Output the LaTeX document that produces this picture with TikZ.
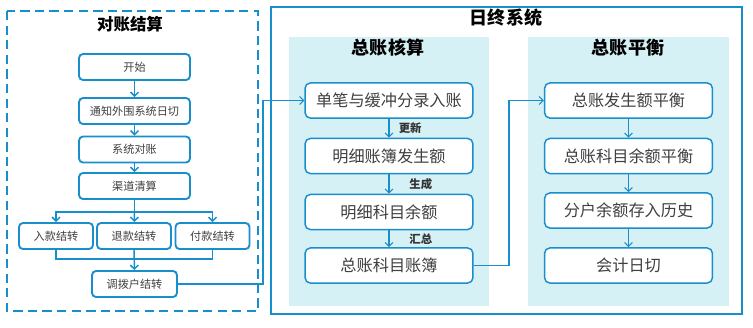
\documentclass[tikz,border=0pt]{standalone}
\usepackage{fontspec}
\setmainfont{Noto Sans CJK SC}
\usepackage{xcolor}
\definecolor{flowblue}{RGB}{24,142,204}
\definecolor{panelcyan}{RGB}{213,241,245}
\definecolor{boxtext}{RGB}{64,64,64}
\usetikzlibrary{arrows.meta,positioning}
\tikzset{
  flowbox/.style={draw=flowblue, line width=1.4pt, rounded corners=3pt, fill=white, text=boxtext, font=\fontsize{8.4pt}{10pt}\selectfont, minimum width=2.94cm, minimum height=0.69cm, inner sep=0pt},
  smallbox/.style={flowbox, minimum width=1.96cm},
  ledgerbox/.style={draw=flowblue, line width=1.1pt, rounded corners=4pt, fill=white, text=boxtext, font=\fontsize{12.2pt}{14pt}\selectfont, minimum width=4.45cm, minimum height=0.93cm, inner sep=0pt},
  link/.style={flowblue, line width=1.1pt, -{Straight Barb[length=3pt,width=6pt]}},
  plainlink/.style={flowblue, line width=1.1pt},
  thinlink/.style={flowblue, line width=0.8pt, -{Straight Barb[length=3pt,width=6pt]}},
  tag/.style={font=\fontsize{8.6pt}{10pt}\selectfont\bfseries, text=black!80, inner sep=0pt},
  heading/.style={font=\fontsize{12.4pt}{14pt}\selectfont\bfseries, inner sep=0pt},
  bigheading/.style={font=\fontsize{13.6pt}{15pt}\selectfont\bfseries, inner sep=0pt}
}
\begin{document}
\begin{tikzpicture}[x=0.0265cm, y=-0.0265cm]
\useasboundingbox (0,0) rectangle (753,327);
% frames
\draw[flowblue, line width=1.8pt, dash pattern=on 7pt off 4pt] (7,11) rectangle (258,311);
\draw[flowblue, line width=1.6pt] (271,7) rectangle (742,314);
\fill[panelcyan] (289,37) rectangle (489,306);
\fill[panelcyan] (528,37) rectangle (729,306);
\node[heading] (settle) at (130,24) {对账结算};
\node[bigheading] (eod) at (506,18) {日终系统};
\node[bigheading] (gl) at (388,48) {总账核算};
\node[bigheading] (balance) at (628,48) {总账平衡};
% reconciliation flow
\node[flowbox] (start) at (134.5,67) {开始};
\node[flowbox] (notify) at (134.5,111) {通知外围系统日切};
\node[flowbox] (recon) at (134.5,149.5) {系统对账};
\node[flowbox] (clear) at (134.5,186) {渠道清算};
\node[smallbox] (inflow) at (56,236) {入款结转};
\node[smallbox] (refund) at (134,236) {退款结转};
\node[smallbox] (payout) at (212.5,236) {付款结转};
\node[flowbox, minimum width=2.25cm] (transfer) at (134.5,284) {调拨户结转};
\coordinate (split) at (134.5,212);
\coordinate (merge) at (134.5,259);
\coordinate (hopa) at (263,0);
\coordinate (hopb) at (509,0);
% general ledger
\node[ledgerbox] (single) at (389,100.5) {单笔与缓冲分录入账};
\node[ledgerbox] (detail) at (389,156) {明细账簿发生额};
\node[ledgerbox] (detbal) at (389,212) {明细科目余额};
\node[ledgerbox] (ledger) at (389,265.5) {总账科目账簿};
% balancing
\node[ledgerbox] (occur) at (628.5,100.5) {总账发生额平衡};
\node[ledgerbox] (subbal) at (628.5,156) {总账科目余额平衡};
\node[ledgerbox] (history) at (628.5,210.5) {分户余额存入历史};
\node[ledgerbox] (daycut) at (628.5,265.5) {会计日切};
% connectors
\draw[link] (start) -- (notify);
\draw[link] (notify) -- (recon);
\draw[link] (recon) -- (clear);
\draw[plainlink] (clear) -- (split);
\draw[link] (split) -- (refund);
\draw[link] (split) -| (inflow);
\draw[link] (split) -| (payout);
\draw[plainlink] (inflow) |- (merge);
\draw[plainlink] (payout) |- (merge);
\draw[link] (refund) -- (transfer);
\draw[thinlink] (transfer.east) -- (transfer.east -| hopa) |- (single.west);
\draw[thinlink] (single) -- node[tag, right=7pt] {更新} (detail);
\draw[thinlink] (detail) -- node[tag, right=15pt] {生成} (detbal);
\draw[thinlink] (detbal) -- node[tag, right=15pt] {汇总} (ledger);
\draw[thinlink] (ledger.east) -- (ledger.east -| hopb) |- (occur.west);
\draw[thinlink] (occur) -- (subbal);
\draw[thinlink] (subbal) -- (history);
\draw[thinlink] (history) -- (daycut);
\end{tikzpicture}
\end{document}
